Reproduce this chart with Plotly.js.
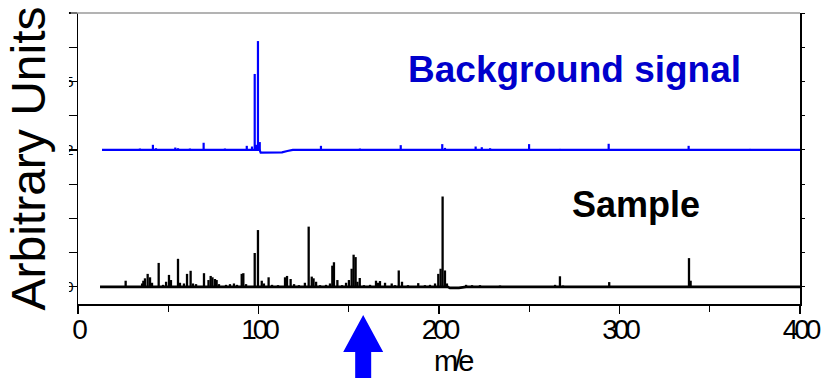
<!DOCTYPE html>
<html><head><meta charset="utf-8">
<script src="https://cdn.plot.ly/plotly-3.0.1.min.js"></script>
<style>
html,body{margin:0;padding:0;background:#fff;}
#chart{width:829px;height:378px;}
.xtick text{letter-spacing:-4px;}
</style></head><body><div id="chart"></div>
<script>
// Sample spectrum (black): m/e and intensity above its baseline (arbitrary units)
const sampleMz = [26.4, 35.5, 36.2, 37.1, 38.6, 39.9, 41.0, 44.7, 47.1, 48.8, 50.4, 51.5, 55.4, 56.5, 58.7, 60.4, 62.4, 63.7, 65.4, 69.8, 72.3, 73.5, 74.5, 75.9, 76.8, 78.1, 82.0, 84.2, 86.4, 88.1, 90.7, 91.6, 93.1, 97.9, 99.7, 101.8, 103.0, 105.6, 107.5, 110.8, 114.7, 115.8, 117.8, 119.7, 122.4, 125.7, 127.8, 129.5, 130.5, 131.9, 134.1, 137.4, 139.6, 140.9, 141.8, 143.7, 146.3, 148.5, 150.1, 151.6, 152.7, 153.8, 154.8, 156.1, 158.4, 161.8, 165.1, 166.2, 167.3, 170.1, 173.8, 175.6, 177.7, 179.5, 182.8, 188.5, 192.2, 195.0, 197.8, 199.6, 200.9, 202.0, 203.3, 204.4, 215.0, 218.3, 222.7, 233.8, 264.3, 267.0, 268.7, 294.3, 338.5, 339.4];
const sampleInt = [0.18, 0.10, 0.18, 0.25, 0.38, 0.28, 0.12, 0.70, 0.06, 0.15, 0.35, 0.20, 0.82, 0.12, 0.10, 0.38, 0.47, 0.10, 0.08, 0.40, 0.20, 0.32, 0.28, 0.23, 0.20, 0.08, 0.06, 0.08, 0.10, 0.06, 0.38, 0.40, 0.08, 0.99, 1.66, 0.18, 0.10, 0.28, 0.06, 0.05, 0.28, 0.32, 0.23, 0.08, 0.05, 0.12, 1.76, 0.30, 0.25, 0.15, 0.05, 0.06, 0.10, 0.62, 0.72, 0.20, 0.05, 0.12, 0.20, 0.53, 0.94, 0.87, 0.15, 0.26, 0.05, 0.06, 0.18, 0.12, 0.17, 0.12, 0.10, 0.05, 0.48, 0.15, 0.05, 0.11, 0.05, 0.06, 0.10, 0.38, 0.53, 2.64, 0.48, 0.10, 0.06, 0.05, 0.05, 0.04, 0.06, 0.31, 0.04, 0.14, 0.84, 0.18];
const sampleBaseMz  = [12.2, 204.8, 206.0, 211.0, 215.0, 400.0];
const sampleBaseVal = [0, 0, -0.03, -0.03, 0, 0];

// Background spectrum (blue)
const bgMz  = [34.3, 41.5, 43.2, 53.9, 55.4, 62.0, 69.6, 81.4, 93.5, 96.4, 97.9, 98.6, 99.7, 100.7, 134.6, 156.2, 178.8, 201.8, 203.3, 220.3, 223.7, 228.3, 249.9, 267.0, 294.0, 338.3, 372.3];
const bgInt = [0.04, 0.15, 0.05, 0.07, 0.05, 0.04, 0.21, 0.04, 0.12, 0.10, 2.22, 0.15, 3.18, 0.23, 0.12, 0.04, 0.14, 0.17, 0.06, 0.10, 0.08, 0.05, 0.17, 0.03, 0.18, 0.12, 0.03];
const bgBaseMz  = [13.3, 100.6, 101.2, 113.0, 116.0, 119.0, 400.0];
const bgBaseVal = [0, 0, -0.08, -0.07, -0.03, 0, 0];
const bgOffset = 4;

const xTickVals = [0, 100, 200, 300, 400];
const xTickText = ['0', '100', '200', '300', '400'];
const yTickVals = [0, 1, 2, 3, 4, 5, 6, 7, 8];
const yTickText = ['0', '', '', '', '2', '', '5', '', ''];
const arrowMz = 158;

function sticks(mz, val, off) {
  const x = [], y = [];
  mz.forEach((m, i) => { x.push(m, m, null); y.push(off, off + val[i], null); });
  return {x, y};
}
const sS = sticks(sampleMz, sampleInt, 0);
const bS = sticks(bgMz, bgInt, bgOffset);

const traces = [
  {x: sampleBaseMz, y: sampleBaseVal, mode: 'lines', line: {color: '#000', width: 2.6}, hoverinfo: 'skip'},
  {x: sS.x, y: sS.y, mode: 'lines', line: {color: '#000', width: 2.3}, connectgaps: false},
  {x: bgBaseMz, y: bgBaseVal.map(v => v + bgOffset), mode: 'lines', line: {color: '#0000ff', width: 2.2}, hoverinfo: 'skip'},
  {x: bS.x, y: bS.y, mode: 'lines', line: {color: '#0000ff', width: 2.2}, connectgaps: false}
];

const layout = {
  width: 829, height: 378,
  margin: {l: 78, r: 29, t: 13, b: 74},
  paper_bgcolor: '#fff', plot_bgcolor: '#fff',
  showlegend: false,
  font: {family: 'Liberation Sans, Arial, sans-serif', color: '#000'},
  xaxis: {
    range: [0, 400], showgrid: false, zeroline: false,
    showline: true, linecolor: '#000', linewidth: 1.5,
    ticks: 'outside', ticklen: 8, tickwidth: 1.2, tickcolor: '#000',
    tickvals: xTickVals, ticktext: xTickText,
    tickfont: {size: 28, color: '#000'}, ticklabelstandoff: -8,
    minor: {dtick: 50, tick0: 0, ticks: 'outside', ticklen: 6, tickwidth: 1.2, tickcolor: '#000'}
  },
  yaxis: {
    range: [-0.5, 8], showgrid: false, zeroline: false,
    showline: true, linecolor: '#000', linewidth: 1.5,
    ticks: 'outside', ticklen: 9, tickwidth: 1.2, tickcolor: '#000',
    tickvals: yTickVals, ticktext: yTickText,
    tickfont: {size: 15, color: '#000'}, ticklabelstandoff: -9,
    title: {text: 'Arbitrary Units', font: {size: 48, color: '#000'}, standoff: 4}
  },
  yaxis2: {
    overlaying: 'y', matches: 'y', side: 'right', anchor: 'x',
    showgrid: false, zeroline: false, showline: true, linecolor: '#000', linewidth: 1.5,
    ticks: 'outside', ticklen: 3, tickcolor: '#000', tickvals: yTickVals, showticklabels: false
  },
  shapes: [
    {type: 'rect', xref: 'paper', yref: 'paper', x0: -0.2, x1: -0.0125, y0: 0.01, y1: 1.05,
     fillcolor: '#fff', line: {width: 0}, layer: 'above'},
    {type: 'line', xref: 'paper', yref: 'paper', x0: -0.01, x1: 1, y0: 1, y1: 1,
     line: {color: '#9a9a9a', width: 1.5}, layer: 'above'},
    {type: 'path', xref: 'x', yref: 'paper', xsizemode: 'pixel', ysizemode: 'pixel',
     xanchor: arrowMz, yanchor: 0,
     path: 'M 0,-11 L 20,-48 L 8,-48 L 8,-90 L -8,-90 L -8,-48 L -20,-48 Z',
     fillcolor: '#0000ff', line: {width: 0}}
  ],
  annotations: [
    {text: '<b>Background signal</b>', x: 275, y: 6.35, xref: 'x', yref: 'y', showarrow: false,
     font: {size: 37, color: '#0000cc'}},
    {text: '<b>Sample</b>', x: 309, y: 2.4, xref: 'x', yref: 'y', showarrow: false,
     font: {size: 36, color: '#000'}},
    {text: '<span style="letter-spacing:-4px">m/e</span>', x: 0.52, y: -0.2543, xref: 'paper', yref: 'paper',
     xanchor: 'center', yanchor: 'bottom', borderpad: 0, showarrow: false, font: {size: 29, color: '#000'}}
  ]
};

traces.push({x: [0], y: [0], yaxis: 'y2', mode: 'markers', marker: {opacity: 0}, hoverinfo: 'skip'});

Plotly.newPlot('chart', traces, layout, {staticPlot: true, displayModeBar: false});
</script></body></html>
